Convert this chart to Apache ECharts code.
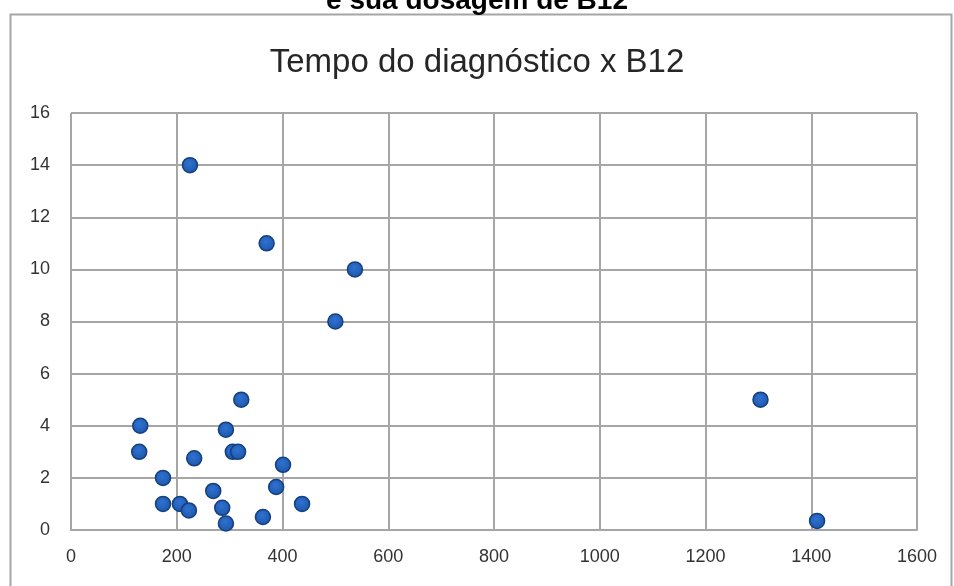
<!DOCTYPE html>
<html>
<head>
<meta charset="utf-8">
<script src="https://cdn.jsdelivr.net/npm/echarts@6/dist/echarts.min.js"></script>
<style>
  html, body { margin: 0; padding: 0; background: #fff; }
  #chart { width: 954px; height: 586px; }
</style>
</head>
<body>
<div id="chart"></div>
<script>
  // tempo do diagnóstico (x) vs B12 (y)
  const tempo = [225, 370, 537, 500, 1304, 1411, 322, 131, 129, 293, 306, 316,
    233, 401, 174, 388, 269, 174, 206, 223, 437, 286, 363, 293];
  const b12 = [14, 11, 10, 8, 5, 0.35, 5, 4, 3, 3.85, 3, 3,
    2.75, 2.5, 2, 1.65, 1.5, 1, 1, 0.75, 1, 0.85, 0.5, 0.25];
  const xTicks = [0, 200, 400, 600, 800, 1000, 1200, 1400, 1600];
  const yTicks = [0, 2, 4, 6, 8, 10, 12, 14, 16];

  const chart = echarts.init(document.getElementById('chart'));
  const gridLine = { show: true, lineStyle: { color: '#a6a6a6', width: 2 } };
  const labelStyle = { color: '#333', fontSize: 18, fontFamily: 'Liberation Sans' };

  chart.setOption({
    animation: false,
    title: [
      {
        text: 'e sua dosagem de B12',
        left: 'center',
        top: -18,
        textStyle: { fontFamily: 'Liberation Sans', fontWeight: 'bold', fontSize: 28, color: '#000' },
      },
      {
        text: 'Tempo do diagnóstico x B12',
        left: 'center',
        top: 41,
        textStyle: { fontFamily: 'Liberation Sans', fontWeight: 'normal', fontSize: 33, color: '#262626' },
      },
    ],
    graphic: [{
      type: 'rect',
      shape: { x: 10.5, y: 14.5, width: 941, height: 600 },
      style: { fill: 'none', stroke: '#a6a6a6', lineWidth: 2 },
      silent: true,
      z: -1,
    }],
    grid: { left: 71, right: 37, top: 113, bottom: 56 },
    xAxis: {
      type: 'value',
      min: xTicks[0],
      max: xTicks[xTicks.length - 1],
      interval: xTicks[1] - xTicks[0],
      axisLine: { show: true, lineStyle: { color: '#a6a6a6', width: 2 } },
      axisTick: { show: false },
      splitLine: gridLine,
      axisLabel: { ...labelStyle, margin: 18, formatter: (v) => String(v) },
    },
    yAxis: {
      type: 'value',
      min: yTicks[0],
      max: yTicks[yTicks.length - 1],
      interval: yTicks[1] - yTicks[0],
      axisLine: { show: false },
      axisTick: { show: false },
      splitLine: gridLine,
      axisLabel: { ...labelStyle, margin: 21 },
    },
    series: [{
      type: 'scatter',
      symbolSize: 15,
      data: tempo.map((x, i) => [x, b12[i]]),
      itemStyle: {
        opacity: 1,
        color: {
          type: 'radial', x: 0.45, y: 0.4, r: 0.6,
          colorStops: [{ offset: 0, color: '#2f72d2' }, { offset: 1, color: '#1d56a8' }],
        },
        borderColor: '#163f7e',
        borderWidth: 1.5,
      },
    }],
  });
</script>
</body>
</html>
